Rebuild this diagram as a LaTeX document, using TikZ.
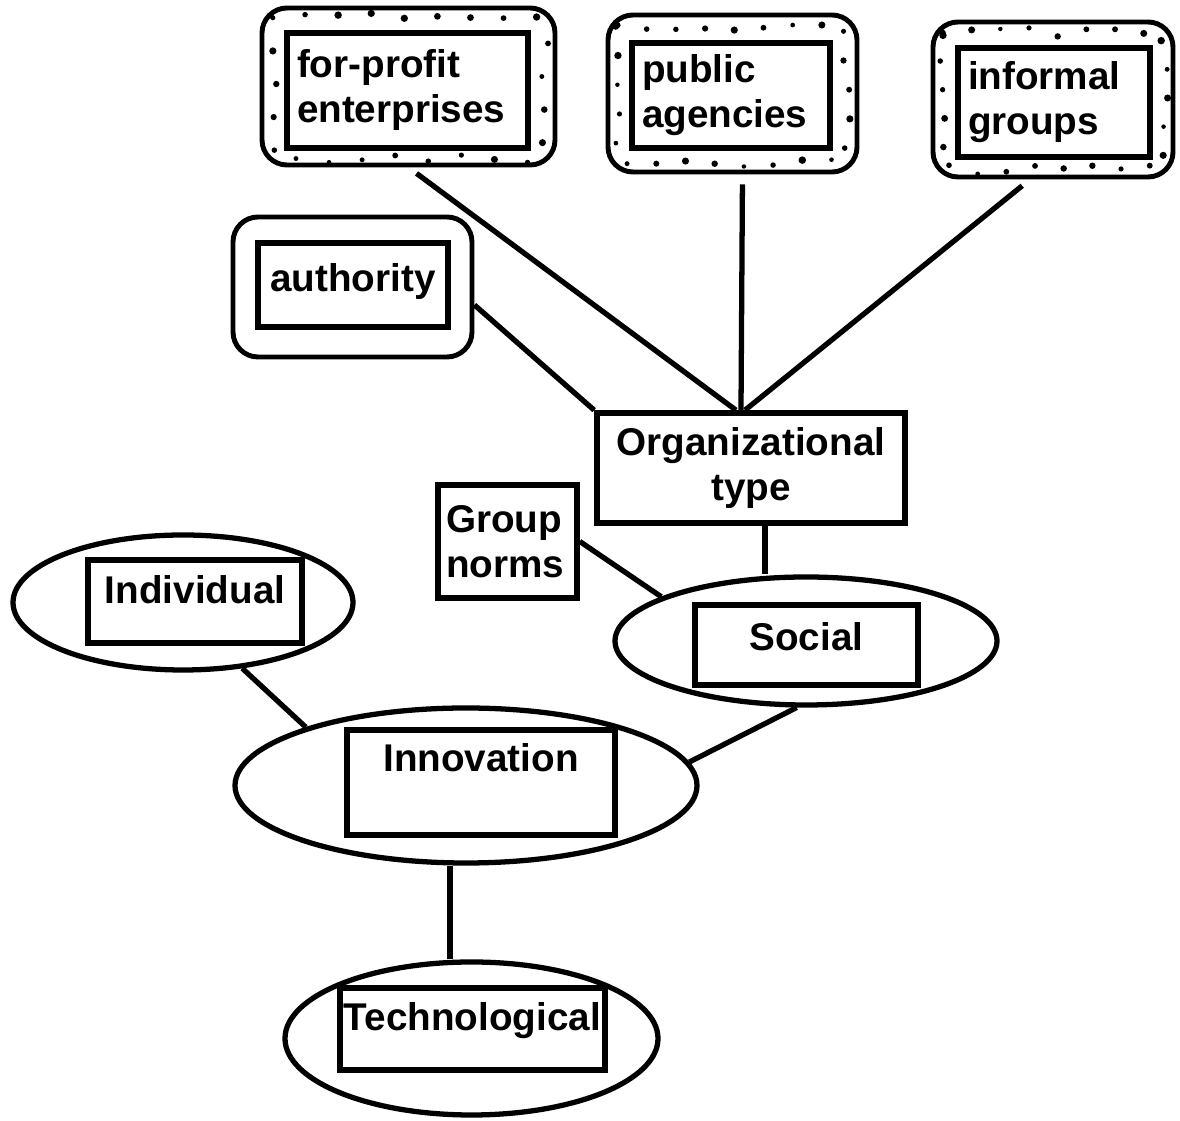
\documentclass[tikz,border=0pt]{standalone}
\usepackage{fontspec}
\setmainfont{Liberation Sans}
\usepackage{tikz}
\usetikzlibrary{calc}
\usetikzlibrary{shapes.geometric}
\usetikzlibrary{decorations.markings}
\tikzset{
  outerbox/.style={draw, rectangle, rounded corners=0.25cm, line width=1.4pt, inner sep=0pt},
  innerbox/.style={draw, rectangle, line width=1.6pt, inner sep=0pt},
  oval/.style={draw, ellipse, line width=1.5pt, inner sep=0pt},
  link/.style={line width=1.5pt},
}

\begin{document}
\begin{tikzpicture}[font=\fontsize{11}{12.8}\selectfont\bfseries]
    \useasboundingbox (0,0) rectangle (11.8,-11.21);

    % dotted boxes on top
    \node (fp) [outerbox, minimum width=2.93cm, minimum height=1.57cm] at (4.085,-0.865) {};
    \node (fpi) [innerbox, minimum width=2.41cm, minimum height=1.15cm,
    inner xsep=0.1cm, text width=2.21cm, align=left] at (4.075,-0.905) {for-profit\\enterprises};

    \node (pa) [outerbox, minimum width=2.49cm, minimum height=1.57cm] at (7.325,-0.935) {};
    \node (pai) [innerbox, minimum width=1.98cm, minimum height=1.05cm,
    inner xsep=0.1cm, text width=1.78cm, align=left] at (7.31,-0.955) {public\\agencies};

    \node (ig) [outerbox, minimum width=2.4cm, minimum height=1.55cm] at (10.53,-0.995) {};
    \node (igi) [innerbox, minimum width=1.92cm, minimum height=1.09cm,
    inner xsep=0.1cm, text width=1.72cm, align=left] at (10.54,-1.025) {informal\\groups};

    \pgfmathsetseed{7}
    \foreach \o/\i in {fp/fpi, pa/pai, ig/igi} {
      \path [decorate, decoration={markings,
        mark=between positions 0 and 1 step 0.04 with
        {\fill (0,{0.045*rand}) circle ({0.022+0.016*rnd});}}]
        ($(\o.north west)!0.5!(\i.north west)$) rectangle ($(\o.south east)!0.5!(\i.south east)$);
    }

    \node (auth) [outerbox, minimum width=2.39cm, minimum height=1.4cm] at (3.525,-2.87) {};
    \node (authi) [innerbox, minimum width=1.9cm, text height=0.49cm,
    text depth=0.35cm] at (3.53,-2.85) {authority};

    \node (org) [innerbox, minimum width=3.08cm, minimum height=1.1cm,
    align=center] at (7.51,-4.68) {Organizational\\type};

    \node (gn) [innerbox, minimum width=1.39cm, minimum height=1.13cm,
    inner xsep=0.08cm, text width=1.23cm, align=left] at (5.075,-5.415) {Group\\norms};

    % ovals
    \node (soc) [oval, minimum width=3.82cm, minimum height=1.28cm] at (8.06,-6.41) {};
    \node (soci) [innerbox, minimum width=2.23cm, text height=0.46cm,
    text depth=0.34cm] at (8.065,-6.45) {Social};

    \node (ind) [oval, minimum width=3.4cm, minimum height=1.35cm] at (1.83,-6.025) {};
    \node (indi) [innerbox, minimum width=2.14cm, text height=0.44cm,
    text depth=0.39cm] at (1.95,-6.015) {Individual};

    \node (inn) [oval, minimum width=4.62cm, minimum height=1.55cm] at (4.66,-7.855) {};
    \node (inni) [innerbox, minimum width=2.68cm, text height=0.42cm,
    text depth=0.63cm] at (4.81,-7.825) {Innovation};

    \node (tech) [oval, minimum width=3.73cm, minimum height=1.53cm] at (4.715,-10.385) {};
    \node (techi) [innerbox, minimum width=2.65cm, text height=0.43cm,
    text depth=0.39cm] at (4.725,-10.29) {Technological};

    % links
    \draw [link, shorten <=1mm] (fp.south) -- ([xshift=-0.15cm]org.north);
    \draw [link, shorten <=1mm] ([xshift=0.1cm]pa.south) -- ([xshift=-0.1cm]org.north);
    \draw [link, shorten <=1mm] ([xshift=-0.23cm]ig.south) -- ([xshift=-0.06cm]org.north);
    \draw [link] ([yshift=-0.18cm]auth.east) -- (org.north west);
    \draw [link] ([xshift=0.14cm]org.south) -- ([xshift=0.14cm]org.south |- soc.north);
    \draw [link] (gn.east) -- (soc.163);
    \draw [link] (soc.262) -- (inn.6);
    \draw [link] (ind.312) -- (inn.160);
    \draw [link] ([xshift=-0.16cm]inn.south) -- ([xshift=-0.16cm]inn.south |- tech.north);

\end{tikzpicture}
\end{document}
